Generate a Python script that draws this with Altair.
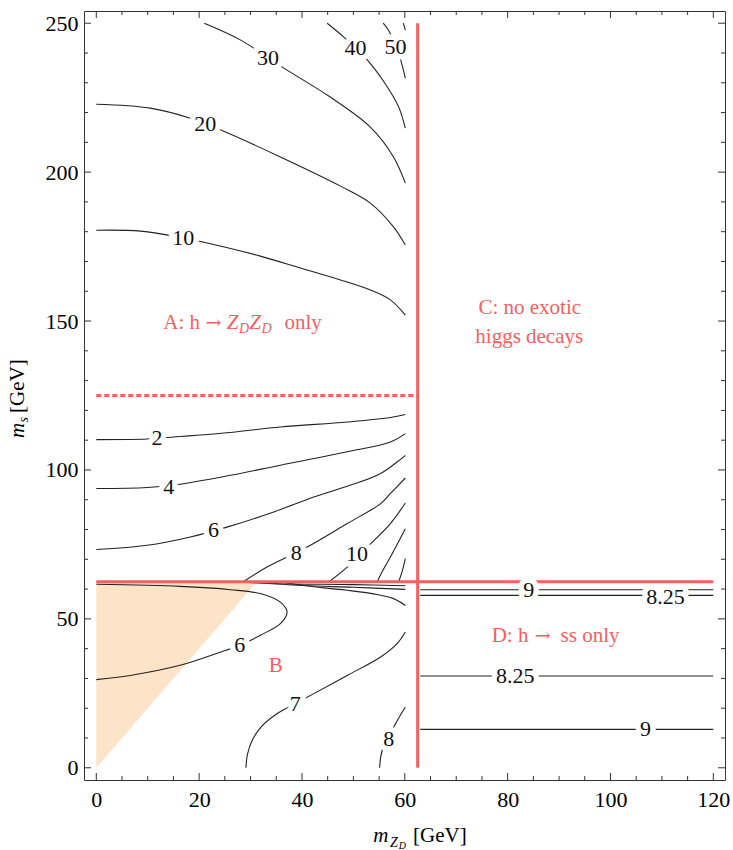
import altair as alt
import pandas as pd

# ---------------- contour lines, (m_ZD, m_s) in GeV ----------------
# region A, m_s above m_h
A_UP_10 = [(0, 180.5), (8.6, 180.2), (16.9, 177.9), (24.1, 175.2), (31.9, 171.8),
           (39.7, 167.8), (47.5, 163.8), (53.3, 160.4), (57.2, 157.1), (60.1, 152.0)]
A_UP_20 = [(0, 222.8), (10.5, 221.5), (18.3, 218.1), (24.1, 214.2), (35.8, 205.1),
           (47.5, 195.3), (53.3, 189.6), (57.8, 181.6), (60.1, 175.5)]
A_UP_30 = [(21.0, 250.0), (28.0, 244.4), (36.4, 235.0), (45.5, 225.2), (53.3, 215.1),
           (57.8, 205.1), (60.1, 196.3)]
A_UP_40 = [(44.9, 250.0), (48.1, 245.4), (52.7, 237.7), (56.6, 228.6), (58.8, 221.9),
           (60.1, 214.8)]
A_UP_50 = [(55.8, 250.0), (56.8, 247.7), (58.2, 242.6), (59.1, 238.3), (60.1, 231.6)]
A_UP_60 = [(59.7, 250.0), (60.1, 247.7)]

# region A, m_h/2 < m_s < m_h
A_LO_2 = [(0, 110.2), (9.9, 110.4), (13.7, 110.9), (26.1, 112.6), (35.8, 114.4),
          (48.8, 116.1), (57.2, 117.6), (60.1, 118.6)]
A_LO_4 = [(0, 93.75), (9.9, 94.1), (16.3, 95.2), (26.1, 98.2), (35.8, 101.6),
          (48.8, 106.1), (57.2, 109.4), (60.1, 112.2)]
A_LO_6 = [(0, 73.3), (9.9, 74.7), (18.3, 77.5), (25.4, 80.8), (34.5, 85.9),
          (42.3, 90.9), (48.8, 94.5), (55.3, 98.8), (60.1, 104.9)]
A_LO_8 = [(28.5, 62.4), (33.2, 67.4), (41.0, 74.1), (48.8, 82.0), (55.3, 88.7),
          (57.2, 92.1), (60.1, 97.3)]
A_LO_10 = [(45.2, 62.4), (48.8, 67.4), (52.7, 74.1), (57.2, 82.0), (60.1, 88.9)]
A_LO_12 = [(54.6, 62.4), (55.8, 66.5), (57.2, 70.8), (60.1, 80.3)]
A_LO_14 = [(58.8, 62.4), (59.5, 66.0), (60.1, 70.2)]

# region B, both exotic decays open
B_6 = [(0, 61.6), (16.3, 60.9), (26.1, 59.8), (31.9, 58.5), (35.8, 55.6), (37.1, 52.3),
       (35.8, 48.4), (31.9, 44.5), (27.9, 41.1), (24.1, 38.8), (16.3, 34.4), (6.6, 31.0),
       (0, 29.6)]
B_7 = [(29.1, 0), (29.4, 4.5), (30.4, 9.5), (32.2, 14.0), (35.0, 18.0), (38.7, 21.5),
       (42.3, 24.9), (48.8, 31.0), (55.3, 37.2), (58.5, 41.7), (60.1, 45.6)]
B_8 = [(55.1, 0), (55.6, 5.8), (58.2, 14.8), (60.1, 20.4)]
B_EDGE_1 = [(28.0, 62.3), (36.0, 61.8), (50.0, 61.5), (60.1, 61.1)]
B_EDGE_2 = [(30.0, 62.3), (40.0, 61.2), (50.0, 60.6), (60.1, 59.9)]
B_EDGE_3 = [(36.0, 62.3), (44.2, 60.4), (48.8, 59.6), (53.9, 58.4), (57.8, 56.8), (60.1, 54.5)]

# region D, h -> ss only
D_9_HI = [(63.0, 59.8), (120.0, 59.8)]
D_825_HI = [(63.0, 57.9), (120.0, 57.9)]
D_825_LO = [(63.0, 30.8), (120.0, 30.8)]
D_9_LO = [(63.0, 12.9), (120.0, 12.9)]

CONTOURS = {
    "a10": A_UP_10, "a20": A_UP_20, "a30": A_UP_30, "a40": A_UP_40, "a50": A_UP_50,
    "a60": A_UP_60, "l2": A_LO_2, "l4": A_LO_4, "l6": A_LO_6, "l8": A_LO_8,
    "l10": A_LO_10, "l12": A_LO_12, "l14": A_LO_14, "b6": B_6, "b7": B_7, "b8": B_8,
    "be1": B_EDGE_1, "be2": B_EDGE_2, "be3": B_EDGE_3, "d9h": D_9_HI,
    "d825h": D_825_HI, "d825l": D_825_LO, "d9l": D_9_LO,
}

# contour labels: text, m_ZD, m_s
LABEL_TEXT = ["10", "20", "30", "40", "50", "2", "4", "6", "8", "10",
              "6", "7", "8", "9", "8.25", "8.25", "9"]
LABEL_X = [16.9, 21.2, 33.4, 50.4, 58.2, 11.8, 14.1, 22.8, 38.9, 50.7,
           27.9, 38.7, 56.9, 84.1, 110.7, 81.5, 106.8]
LABEL_Y = [177.9, 216.0, 238.3, 241.6, 242.0, 110.7, 94.3, 79.7, 72.1, 71.9,
           41.1, 21.3, 9.7, 59.6, 57.4, 30.8, 12.9]

# region boundaries: m_s = m_h/2, m_ZD = m_h/2, m_s = m_h
HALF_MH = 62.5
MH = 125.0
# kinematically closed corner m_s < 2 m_ZD
TRI_X = [0.0, 31.25]
TRI_Y = [0.0, 62.5]

# region captions
CAP_TEXT = ["C: no exotic", "higgs decays", "B"]
CAP_X = [84.3, 84.2, 34.9]
CAP_Y = [154.3, 144.8, 34.2]
# "A: h -> Z_D Z_D only" assembled from pieces (text, left x, style)
A_PIECES = [("A: h", 13.03, "n"), ("Z", 25.36, "i"), ("D", 27.75, "s"),
            ("Z", 29.75, "i"), ("D", 32.15, "s"), ("only", 36.6, "n")]
A_ARROW_X = 22.8
A_Y = 149.3
# "D: h -> ss only" pieces (text, left x)
D_PIECES = [("D: h", 76.9), ("ss only", 90.3)]
D_ARROW_X = 86.8
D_Y = 44.3

X_MAJOR = [0, 20, 40, 60, 80, 100, 120]
X_MINOR = [v for v in range(5, 120, 5) if v % 20]
Y_MAJOR = [0, 50, 100, 150, 200, 250]
Y_MINOR = [v for v in range(10, 250, 10) if v % 50]

# ---------------- styling ----------------
SERIF = "Liberation Serif"
RED = "#f5605f"
W, H = 641, 769
XS = alt.Scale(domain=[-2.39, 122.27], nice=False, zero=False)
YS = alt.Scale(domain=[-4.1, 254.1], nice=False, zero=False)

rows = []
for cid, pts in CONTOURS.items():
    for i, (x, y) in enumerate(pts):
        rows.append({"cid": cid, "i": i, "x": x, "y": y})
lines_df = pd.DataFrame(rows)

X_AXIS = alt.Axis(values=X_MAJOR, title=None, ticks=False, tickSize=0, domain=False,
                  grid=False, labelFont=SERIF, labelFontSize=22, labelColor="black",
                  labelPadding=9, labelFlush=False, labelOverlap=False, format="d")
Y_AXIS = alt.Axis(values=Y_MAJOR, title=None, ticks=False, tickSize=0, domain=False,
                  grid=False, labelFont=SERIF, labelFontSize=22, labelColor="black",
                  labelPadding=6, labelFlush=False, labelOverlap=False, format="d")


def X(field):
    return alt.X(field, type="quantitative", scale=XS, axis=X_AXIS)


def Y(field):
    return alt.Y(field, type="quantitative", scale=YS, axis=Y_AXIS)


tri = alt.Chart(pd.DataFrame({"x": TRI_X, "y": TRI_Y, "y2": [HALF_MH, HALF_MH]})).mark_area(
    color="#fde3c8", opacity=1, interpolate="linear"
).encode(x=X("x"), y=Y("y"), y2="y2:Q")

contours = alt.Chart(lines_df).mark_line(
    color="#222222", strokeWidth=1.1, interpolate="catmull-rom"
).encode(x=X("x"), y=Y("y"), detail="cid:N", order="i:Q")

red_df = pd.DataFrame({
    "x": [HALF_MH, 0.0], "x2": [HALF_MH, 120.0],
    "y": [0.0, HALF_MH], "y2": [250.0, HALF_MH],
})
red_rules = alt.Chart(red_df).mark_rule(color=RED, strokeWidth=3).encode(
    x=X("x"), x2="x2:Q", y=Y("y"), y2="y2:Q",
)
dashed = alt.Chart(pd.DataFrame({"x": [0.0], "x2": [HALF_MH], "y": [MH]})).mark_rule(
    color=RED, strokeWidth=3, strokeDash=[5, 3]
).encode(x=X("x"), x2="x2:Q", y=Y("y"))

lab_df = pd.DataFrame({"t": LABEL_TEXT, "x": LABEL_X, "y": LABEL_Y})
halo = alt.Chart(lab_df).mark_text(
    font=SERIF, fontSize=22, color="white", stroke="white", strokeWidth=11,
    strokeJoin="round", baseline="middle", align="center"
).encode(x=X("x"), y=Y("y"), text="t:N")
labels = alt.Chart(lab_df).mark_text(
    font=SERIF, fontSize=22, color="#111111", baseline="middle", align="center"
).encode(x=X("x"), y=Y("y"), text="t:N")

caps = alt.Chart(pd.DataFrame({"t": CAP_TEXT, "x": CAP_X, "y": CAP_Y})).mark_text(
    font=SERIF, fontSize=21, color=RED, baseline="middle", align="center"
).encode(x=X("x"), y=Y("y"), text="t:N")


def red_piece(txt, x, y, **kw):
    base = dict(font=SERIF, fontSize=21, color=RED, baseline="middle", align="left")
    base.update(kw)
    return alt.Chart(pd.DataFrame({"t": [txt], "x": [x], "y": [y]})).mark_text(**base).encode(
        x=X("x"), y=Y("y"), text="t:N")


def arrow(x, y):
    return red_piece("\u2192", x, y, font="DejaVu Serif", fontSize=19, align="center")


a_layers = []
for txt, px, sty in A_PIECES:
    if sty == "n":
        a_layers.append(red_piece(txt, px, A_Y))
    elif sty == "i":
        a_layers.append(red_piece(txt, px, A_Y, fontStyle="italic"))
    else:
        a_layers.append(red_piece(txt, px, A_Y, fontSize=14, fontStyle="italic", dy=6))
a_layers.append(arrow(A_ARROW_X, A_Y))
for txt, px in D_PIECES:
    a_layers.append(red_piece(txt, px, D_Y))
a_layers.append(arrow(D_ARROW_X, D_Y))


# frame ticks pointing inward on all four sides
def xticks(vals, length):
    d = pd.DataFrame({"v": vals})
    bottom = alt.Chart(d).mark_rule(color="#333333", strokeWidth=1).encode(
        x=X("v"), y=alt.value(H), y2=alt.value(H - length))
    top = alt.Chart(d).mark_rule(color="#333333", strokeWidth=1).encode(
        x=X("v"), y=alt.value(0), y2=alt.value(length))
    return [bottom, top]


def yticks(vals, length):
    d = pd.DataFrame({"v": vals})
    left = alt.Chart(d).mark_rule(color="#333333", strokeWidth=1).encode(
        y=Y("v"), x=alt.value(0), x2=alt.value(length))
    right = alt.Chart(d).mark_rule(color="#333333", strokeWidth=1).encode(
        y=Y("v"), x=alt.value(W), x2=alt.value(W - length))
    return [left, right]


ticks = xticks(X_MAJOR, 7) + xticks(X_MINOR, 4) + yticks(Y_MAJOR, 7) + yticks(Y_MINOR, 4)


# axis titles with sub/subscripts, placed outside the frame
def ptext(txt, x, y, size, style="normal", angle=0):
    kw = dict(font=SERIF, fontSize=size, color="black", align="left",
              baseline="alphabetic", fontStyle=style)
    if angle:
        kw["angle"] = angle
    return alt.Chart(pd.DataFrame({"t": [txt]})).mark_text(**kw).encode(
        text="t:N", x=alt.value(x), y=alt.value(y))


titles = [
    ptext("m", 289.3, 831, 21, "italic"),
    ptext("Z", 306.0, 836, 14, "italic"),
    ptext("D", 314.7, 838, 10, "italic"),
    ptext("[GeV]", 329.0, 831, 21),
    ptext("m", -60, 427, 21, "italic", 270),
    ptext("s", -56, 411.5, 14, "italic", 270),
    ptext("[GeV]", -60, 402, 21, "normal", 270),
]

chart = alt.layer(
    tri, contours, red_rules, dashed, halo, labels, caps, *a_layers, *ticks, *titles
).properties(
    width=W, height=H,
    autosize=alt.AutoSizeParams(type="none"),
    padding={"left": 84, "top": 11, "right": 8, "bottom": 70},
).configure_view(stroke="#333333", strokeWidth=1)

chart.save("out.html", embed_options={"renderer": "svg", "actions": False})
